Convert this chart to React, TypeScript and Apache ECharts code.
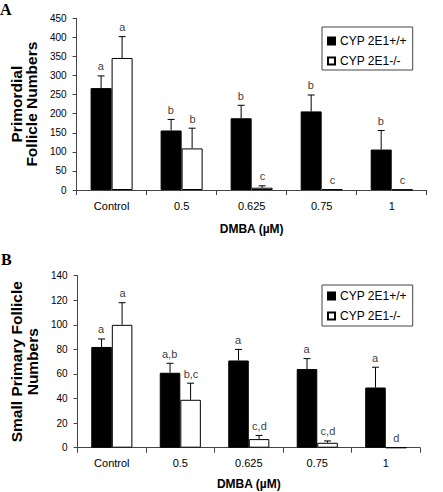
import React, { useEffect, useRef } from "react";
import * as echarts from "echarts";

const categories = ["Control", "0.5", "0.625", "0.75", "1"];
const seriesNames = ["CYP 2E1+/+", "CYP 2E1-/-"];

const aWild = [267, 156, 188, 206, 106];
const aWildErr = [32, 29, 34, 43, 50];
const aWildLetters = ["a", "b", "b", "b", "b"];
const aNull = [346, 109, 6, 2, 1];
const aNullErr = [56, 53, 5, 0, 0];
const aNullLetters = ["a", "b", "c", "c", "c"];

const bWild = [82, 61, 71, 64, 49];
const bWildErr = [6.5, 7.7, 9, 8.5, 16.5];
const bWildLetters = ["a", "a,b", "a", "a", "a"];
const bNull = [100, 39, 7, 4, 0];
const bNullErr = [18, 13.5, 3, 1.5, 0];
const bNullLetters = ["a", "b,c", "c,d", "c,d", "d"];

const FONT = "'Liberation Sans', Arial, sans-serif";
const AXIS_COLOR = "#444";
const GRID_A = { left: 65.7, top: 18.3, width: 361, height: 171.7 };
const GRID_B = { left: 64.3, top: 275.7, width: 355.7, height: 172 };
const BAR_FRAC = 0.3;

function errSeries(values: number[], errs: number[], side: number, axisIndex: number) {
  return {
    type: "custom",
    xAxisIndex: axisIndex,
    yAxisIndex: axisIndex,
    silent: true,
    z: 5,
    itemStyle: { color: "#000" },
    data: values.map((v, i) => [i, v, errs[i]]),
    renderItem: (params: any, api: any) => {
      const i = api.value(0);
      const v = api.value(1);
      const e = api.value(2);
      const band = api.size([1, 0])[0];
      const w = band * BAR_FRAC;
      const p0 = api.coord([i, v]);
      const p1 = api.coord([i, v + e]);
      const cx = p0[0] + (side * w) / 2;
      const children: any[] = [];
      if (e > 0) {
        children.push({
          type: "line",
          shape: { x1: cx, y1: p0[1], x2: cx, y2: p1[1] },
          style: { stroke: "#000", lineWidth: 1 },
        });
        children.push({
          type: "line",
          shape: { x1: cx - 3.5, y1: p1[1], x2: cx + 3.5, y2: p1[1] },
          style: { stroke: "#000", lineWidth: 1 },
        });
      }
      return { type: "group", children };
    },
  };
}

function letterSeries(values: number[], errs: number[], letters: string[], side: number, axisIndex: number, gridWidth: number) {
  const w = (gridWidth / categories.length) * BAR_FRAC;
  return {
    type: "scatter",
    xAxisIndex: axisIndex,
    yAxisIndex: axisIndex,
    silent: true,
    z: 6,
    symbol: "circle",
    symbolSize: 1,
    itemStyle: { color: "rgba(0,0,0,0)" },
    data: values.map((v, i) => [i, v + errs[i]]),
    label: {
      show: true,
      position: "top",
      distance: 3.5,
      offset: [(side * w) / 2, 0],
      formatter: (p: any) => letters[p.dataIndex],
      color: "#000",
      fontSize: 11,
      fontFamily: FONT,
    },
  };
}

function barSeries(name: string, values: number[], color: string, axisIndex: number) {
  return {
    name,
    type: "bar",
    xAxisIndex: axisIndex,
    yAxisIndex: axisIndex,
    data: values,
    barWidth: `${BAR_FRAC * 100}%`,
    barGap: "0%",
    itemStyle: { color, borderColor: "#000", borderWidth: 1 },
  };
}

function xAxis(gridIndex: number, nameGap: number) {
  return {
    type: "category",
    gridIndex,
    data: categories,
    boundaryGap: true,
    axisLine: { show: true, lineStyle: { color: AXIS_COLOR, width: 1 } },
    axisTick: { show: true, interval: 0, length: 5, lineStyle: { color: AXIS_COLOR } },
    axisLabel: { fontSize: 11, color: "#000", fontFamily: FONT, margin: 10, interval: 0 },
    name: "DMBA (µM)",
    nameLocation: "middle",
    nameGap,
    nameTextStyle: { fontSize: 12, fontWeight: "bold", color: "#000", fontFamily: FONT },
    splitLine: { show: false },
  };
}

function yAxis(gridIndex: number, max: number, interval: number, name: string, nameGap: number, lineHeight: number) {
  return {
    type: "value",
    gridIndex,
    min: 0,
    max,
    interval,
    axisLine: { show: true, lineStyle: { color: AXIS_COLOR, width: 1 } },
    axisTick: { show: true, length: 4, lineStyle: { color: AXIS_COLOR } },
    axisLabel: { fontSize: 10, color: "#000", fontFamily: FONT, margin: 10 },
    splitLine: { show: false },
    name,
    nameLocation: "middle",
    nameGap,
    nameTextStyle: {
      fontSize: 15.5,
      fontWeight: "bold",
      color: "#000",
      fontFamily: FONT,
      lineHeight,
      align: "center",
    },
  };
}

function legend(top: number, padding: number[]) {
  return {
    data: seriesNames,
    orient: "vertical",
    left: 322,
    top,
    padding,
    itemGap: 6,
    itemWidth: 7,
    itemHeight: 7,
    itemTextGap: 5,
    icon: "rect",
    borderColor: AXIS_COLOR,
    borderWidth: 1,
    selectedMode: false,
    textStyle: { fontSize: 12, color: "#000", fontFamily: FONT, lineHeight: 14 },
  };
}

export default function App() {
  const ref = useRef<HTMLDivElement>(null);
  useEffect(() => {
    if (!ref.current) return;
    const chart = echarts.init(ref.current, null, { renderer: "svg" });
    chart.setOption({
      animation: false,
      backgroundColor: "#fff",
      grid: [
        { ...GRID_A, containLabel: false },
        { ...GRID_B, containLabel: false },
      ],
      xAxis: [xAxis(0, 33), xAxis(1, 30)],
      yAxis: [
        yAxis(0, 450, 50, "Primordial\nFollicle Numbers", 34.5, 15),
        yAxis(1, 140, 20, "Small Primary Follicle\nNumbers", 30.3, 16),
      ],
      legend: [legend(27, [7, 6, 2, 5]), legend(285, [4, 6, 3, 5])],
      graphic: [
        {
          type: "text",
          left: 0,
          top: 1,
          style: { text: "A", font: "bold 16px 'Liberation Serif', 'Times New Roman', serif", fill: "#000" },
        },
        {
          type: "text",
          left: 1,
          top: 251,
          style: { text: "B", font: "bold 16px 'Liberation Serif', 'Times New Roman', serif", fill: "#000" },
        },
      ],
      series: [
        barSeries(seriesNames[0], aWild, "#000", 0),
        barSeries(seriesNames[1], aNull, "#fff", 0),
        errSeries(aWild, aWildErr, -1, 0),
        errSeries(aNull, aNullErr, 1, 0),
        letterSeries(aWild, aWildErr, aWildLetters, -1, 0, GRID_A.width),
        letterSeries(aNull, aNullErr, aNullLetters, 1, 0, GRID_A.width),
        barSeries(seriesNames[0], bWild, "#000", 1),
        barSeries(seriesNames[1], bNull, "#fff", 1),
        errSeries(bWild, bWildErr, -1, 1),
        errSeries(bNull, bNullErr, 1, 1),
        letterSeries(bWild, bWildErr, bWildLetters, -1, 1, GRID_B.width),
        letterSeries(bNull, bNullErr, bNullLetters, 1, 1, GRID_B.width),
      ],
    });
    return () => chart.dispose();
  }, []);
  return (
    <div
      ref={ref}
      style={{ position: "absolute", left: 0, top: 0, width: 443, height: 492, background: "#fff" }}
    />
  );
}
